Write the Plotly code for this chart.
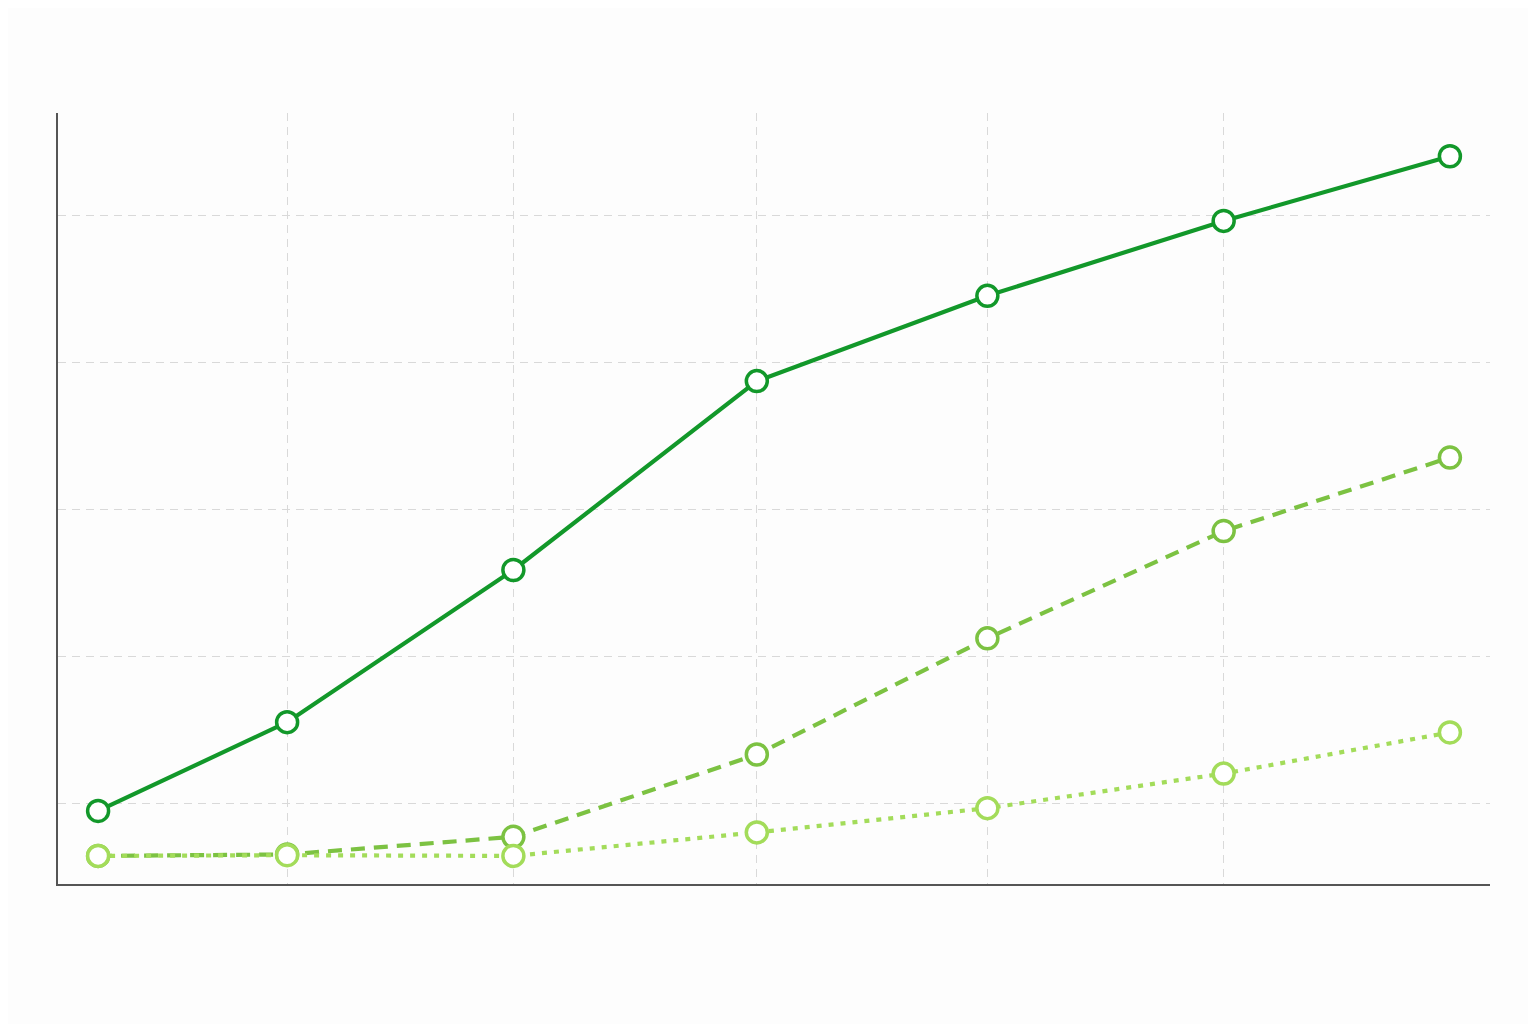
import plotly.graph_objects as go

# Data (x positions are non-uniform)
x_vals = [2.8, 16.0, 31.8, 48.8, 64.9, 81.4, 97.2]
series_a = [9.46, 15.5, 25.85, 38.7, 44.5, 49.6, 54.0]
series_b = [6.4, 6.5, 7.7, 13.3, 21.2, 28.5, 33.5]
series_c = [6.4, 6.45, 6.4, 8.0, 9.65, 12.0, 14.8]
y_grid = [10, 20, 30, 40, 50]

colors = ["#12982a", "#7cc242", "#a3dc5a"]
dashes = ["solid", "14px,9px", "5px,7px"]

fig = go.Figure()
for ys, c, d in zip([series_a, series_b, series_c], colors, dashes):
    fig.add_trace(go.Scatter(
        x=x_vals, y=ys, mode="lines+markers",
        line=dict(color=c, width=4.2, dash=d),
        marker=dict(size=21, color="white", line=dict(color=c, width=3.5)),
        showlegend=False, hoverinfo="skip",
    ))

fig.update_layout(
    width=1536, height=1024,
    margin=dict(l=50, r=54, t=105, b=148),
    paper_bgcolor="#fdfdfd", plot_bgcolor="#fdfdfd",
)
fig.update_xaxes(
    range=[0, 100], tickvals=x_vals[1:-1], showticklabels=False, ticks="",
    showgrid=True, gridcolor="#d9d9d9", gridwidth=1.3, griddash="8px,6px",
    showline=True, linecolor="#555555", linewidth=2, zeroline=False, mirror=False,
)
fig.update_yaxes(
    range=[4.49, 56.94], tickvals=y_grid, showticklabels=False, ticks="",
    showgrid=True, gridcolor="#d9d9d9", gridwidth=1.3, griddash="8px,6px",
    showline=True, linecolor="#555555", linewidth=2, zeroline=False, mirror=False,
)

fig.write_html("out.html")
